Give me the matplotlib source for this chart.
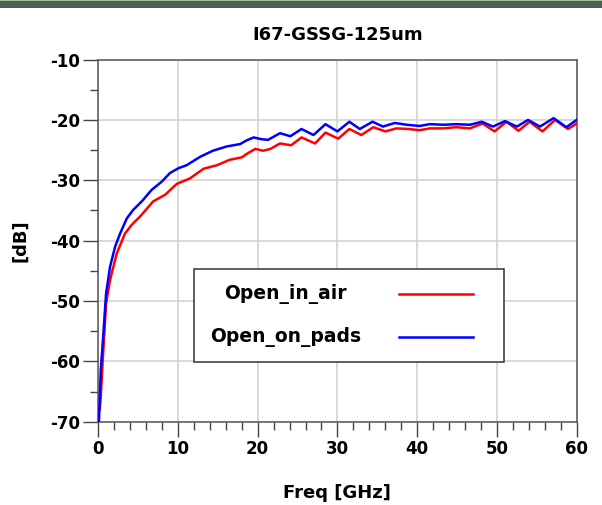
import matplotlib.pyplot as plt
from matplotlib.patches import Rectangle
from matplotlib.lines import Line2D

# Open_in_air (red)
freq_air = [0.2, 0.33, 0.58, 1.0, 1.5, 2.34, 3.38, 4.2, 5.26, 6.9, 8.4, 9.86, 11.5, 13.2, 14.9,
            16.5, 18.0, 18.8, 19.7, 20.7, 21.6, 22.8, 24.2, 25.5, 27.2, 28.5, 30.1, 31.5, 33.0,
            34.5, 36.0, 37.4, 38.9, 40.3, 41.6, 43.3, 44.9, 46.6, 48.2, 49.7, 51.2, 52.7, 54.1,
            55.7, 57.3, 58.9, 60.0]
db_air = [-68.0, -66.0, -59.8, -50.4, -46.5, -42.1, -38.8, -37.4, -36.0, -33.5, -32.4, -30.6,
          -29.7, -28.1, -27.5, -26.6, -26.2, -25.5, -24.8, -25.1, -24.8, -23.9, -24.2, -22.9,
          -23.9, -22.1, -23.1, -21.5, -22.5, -21.2, -21.9, -21.4, -21.5, -21.7, -21.4, -21.4,
          -21.2, -21.4, -20.6, -21.9, -20.3, -21.8, -20.3, -21.9, -20.0, -21.5, -20.6]

# Open_on_pads (blue)
freq_pads = [0.1, 0.33, 0.66, 1.0, 1.5, 2.13, 2.76, 3.6, 4.4, 5.47, 6.7, 8.0, 9.0, 10.07, 11.1,
             12.8, 14.4, 16.1, 17.8, 18.6, 19.5, 20.5, 21.3, 22.8, 24.1, 25.5, 27.0, 28.5, 30.0,
             31.5, 32.8, 34.4, 35.7, 37.2, 38.7, 40.3, 41.6, 43.3, 44.9, 46.6, 48.1, 49.5, 51.0,
             52.5, 53.9, 55.4, 57.1, 58.7, 60.0]
db_pads = [-70.0, -61.5, -55.4, -48.7, -44.3, -41.0, -38.8, -36.3, -34.9, -33.5, -31.6, -30.2,
           -28.8, -28.0, -27.5, -26.1, -25.1, -24.4, -24.0, -23.4, -22.9, -23.2, -23.3, -22.2,
           -22.7, -21.5, -22.5, -20.7, -21.9, -20.3, -21.5, -20.3, -21.1, -20.5, -20.8, -21.0,
           -20.7, -20.8, -20.7, -20.8, -20.3, -21.1, -20.2, -21.1, -20.0, -21.1, -19.7, -21.2,
           -20.0]

series_names = ['Open_in_air', 'Open_on_pads']
series_colors = ['#ff0000', '#0000ff']

x_ticks = [0, 10, 20, 30, 40, 50, 60]
y_ticks = [-70, -60, -50, -40, -30, -20, -10]

plt.rcParams['font.family'] = 'DejaVu Sans'
plt.rcParams['font.weight'] = 'bold'
plt.rcParams['axes.unicode_minus'] = False

fig = plt.figure(figsize=(6.02, 5.05), dpi=100)
ax = fig.add_axes([0.163, 0.165, 0.795, 0.717])

# dark band at the top of the window
fig.patches.append(Rectangle((0, 0.984), 1, 0.016, transform=fig.transFigure,
                             facecolor='#4d5f5b', edgecolor='none'))
fig.patches.append(Rectangle((0, 0.9975), 1, 0.0025, transform=fig.transFigure,
                             facecolor='#9fc49a', edgecolor='none'))

ax.plot(freq_air, db_air, color=series_colors[0], lw=1.8, solid_joinstyle='round', zorder=3)
ax.plot(freq_pads, db_pads, color=series_colors[1], lw=1.8, solid_joinstyle='round', zorder=4)

ax.set_xlim(0, 60)
ax.set_ylim(-70, -10)
ax.set_xticks(x_ticks)
ax.set_yticks(y_ticks)
ax.set_xticks(range(0, 61, 2), minor=True)
ax.set_yticks(range(-70, -9, 5), minor=True)
ax.tick_params(which='major', length=11, width=1, color='#444444', labelsize=12, pad=2)
ax.tick_params(which='minor', length=5.5, width=1, color='#444444')
ax.grid(True, which='major', color='#d0d0d0', lw=1.1)
ax.set_axisbelow(True)
for s in ax.spines.values():
    s.set_color('#555555')
    s.set_linewidth(1.1)

ax.set_title('I67-GSSG-125um', fontsize=13, fontweight='bold', pad=14)
ax.set_xlabel('Freq [GHz]', fontsize=13, fontweight='bold', labelpad=19)
ax.set_ylabel('[dB]', fontsize=13, fontweight='bold', labelpad=15)

# legend box drawn by hand
ax.add_patch(Rectangle((0.200, 0.165), 0.648, 0.257, transform=ax.transAxes,
                       facecolor='white', edgecolor='#333333', lw=1.1, zorder=5))
rows_y = [0.353, 0.234]
for name, col, yy in zip(series_names, series_colors, rows_y):
    ax.text(0.392, yy, name, transform=ax.transAxes, ha='center', va='center',
            fontsize=13.5, fontweight='bold', zorder=6)
    ax.add_line(Line2D([0.628, 0.783], [yy, yy], transform=ax.transAxes,
                       color=col, lw=1.8, zorder=6))

fig.savefig('out.png', dpi=100)
